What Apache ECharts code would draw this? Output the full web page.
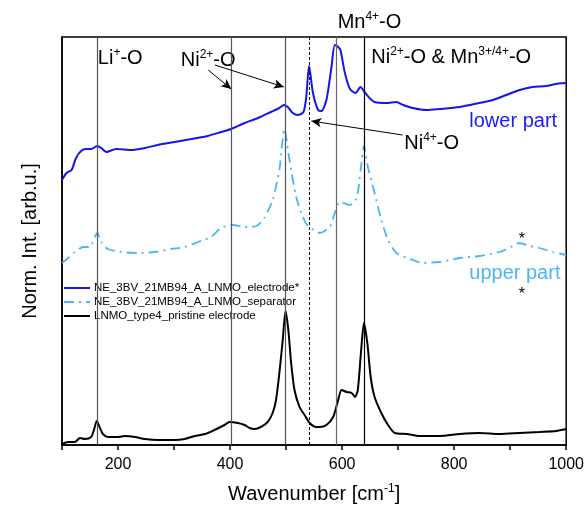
<!DOCTYPE html>
<html>
<head>
<meta charset="utf-8">
<script src="https://cdn.jsdelivr.net/npm/echarts@6/dist/echarts.min.js"></script>
<style>
  html, body { margin: 0; padding: 0; background: #fff; }
  #chart { width: 587px; height: 510px; }
</style>
</head>
<body>
<div id="chart"></div>
<script>
// Raman spectra (normalised, stacked with offsets), wavenumber in cm^-1
const electrodeX = [100,108,117,125,134,143,152,163,170,179,197,224,248,271,301,331,360,384,402,426,450,473,488,496,503,512,521,531,536,541,548,557,563,572,581,587,593,597,605,614,624,633,640,649,658,679,697,709,726,750,774,810,845,869,893,917,940,964,982,1000];
const electrodeY = [265,272,275,287,294,296,296,299,297,293,296,295,297,300,303,306,309,313,316,322,327,333,337,340,338,332,330,333,348,379,352,335,334,345,378,400,398,395,372,356,352,358,353,347,343,342,343,340,337,335,336,338,342,345,350,355,358,359,361,362];

const separatorX = [100,111,123,138,149,163,170,182,206,236,265,295,319,343,366,384,405,426,447,461,476,488,497,506,518,530,540,550,560,578,587,596,614,626,633,639,646,658,670,682,697,721,744,774,810,845,881,905,916,935,952,976,1000];
const separatorY = [182,187,193,198,198,212,203,196,193,192,193,196,198,203,208,217,220,218,219,227,245,275,316,285,248,228,218,215,212,218,232,243,240,247,275,299,278,252,225,205,192,186,182,183,187,189,193,199,202,199,197,193,190];

const pristineX = [100,111,123,132,141,152,157,162,167,173,182,200,212,230,248,271,301,319,337,355,372,390,399,414,426,435,444,455,467,476,482,488,494,499,504,509,515,524,533,542,554,560,572,584,593,599,608,617,623,628,634,639,645,651,658,670,682,694,715,738,774,810,845,881,917,952,982,1000];
const pristineY = [1,3,3,7,6,8,15,24,18,11,8,8,9,8,6,5,5,6,9,11,15,20,23,22,20,17,16,18,23,32,45,72,105,134,115,82,55,38,30,22,18,18,20,28,45,55,53,52,48,55,95,122,102,68,48,32,20,12,11,9,9,11,12,11,12,13,14,16];

const seriesNames = [
  'NE_3BV_21MB94_A_LNMO_electrode*',
  'NE_3BV_21MB94_A_LNMO_separator',
  'LNMO_type4_pristine electrode'
];

// Band positions (cm^-1)
const bandLines = [163, 402, 498, 590, 640];
const bandColors = ['#555', '#555', '#555', '#666', '#000'];
const dashedBand = 542;

// Axis ticks
const xMin = 100, xMax = 1000, xStep = 100, xLabelStep = 200;
const yMin = 0, yMax = 408;

const FONT = 'Liberation Sans, Arial, Helvetica, sans-serif';

function pairs(xs, ys) { return xs.map((x, i) => [x, ys[i]]); }

const chart = echarts.init(document.getElementById('chart'), null, { renderer: 'canvas' });

const sup = { fontSize: 12, fontFamily: FONT, verticalAlign: 'top', lineHeight: 22 };
const mainRich = (color) => ({
  m: { fontSize: 20, fontFamily: FONT, color: color, lineHeight: 22 },
  s: Object.assign({ color: color }, sup)
});

// Annotation texts, anchored in data coordinates (left edge, vertical middle)
const notes = [
  { at: [164, 387], text: '{m|Li}{s|+}{m|-O}', color: '#000' },
  { at: [312, 385], text: '{m|Ni}{s|2+}{m|-O}', color: '#000' },
  { at: [592, 423], text: '{m|Mn}{s|4+}{m|-O}', color: '#000' },
  { at: [652, 388], text: '{m|Ni}{s|2+}{m|-O & Mn}{s|3+/4+}{m|-O}', color: '#000' },
  { at: [711, 302], text: '{m|Ni}{s|4+}{m|-O}', color: '#000' },
  { at: [827, 324], text: '{m|lower part}', color: '#1a1aff' },
  { at: [827, 172], text: '{m|upper part}', color: '#4db6f5' }
];
const stars = [[921, 205], [921, 150]];

const option = {
  animation: false,
  backgroundColor: '#fff',
  grid: {
    left: 62, right: 20, top: 37, bottom: 65,
    show: true, borderColor: '#000', borderWidth: 1.5, backgroundColor: 'transparent'
  },
  legend: {
    data: seriesNames,
    orient: 'vertical',
    left: 63, top: 282,
    padding: 0,
    itemGap: 2,
    itemWidth: 26, itemHeight: 12,
    itemStyle: { color: 'transparent', borderWidth: 0, opacity: 0 },
    textStyle: { fontSize: 11.5, fontFamily: FONT, color: '#000', padding: [0, 0, 0, -1] }
  },
  xAxis: {
    type: 'value', min: xMin, max: xMax, interval: xStep,
    name: 'Wavenumber [cm{s|-1}]',
    nameLocation: 'middle', nameGap: 38,
    nameTextStyle: {
      fontSize: 20, fontFamily: FONT, color: '#000',
      rich: { s: { fontSize: 12, fontFamily: FONT, verticalAlign: 'top', lineHeight: 22 } }
    },
    axisLine: { lineStyle: { color: '#000', width: 1.5 } },
    axisTick: { show: true, inside: false, length: 5, lineStyle: { color: '#000', width: 1.5 } },
    axisLabel: {
      fontSize: 16, fontFamily: FONT, color: '#000', margin: 12,
      formatter: v => (v % xLabelStep === 0 ? String(v) : '')
    },
    splitLine: { show: false }
  },
  yAxis: {
    type: 'value', min: yMin, max: yMax,
    name: 'Norm. Int. [arb.u.]',
    nameLocation: 'middle', nameGap: 22,
    nameTextStyle: { fontSize: 20, fontFamily: FONT, color: '#000' },
    axisLine: { show: true, lineStyle: { color: '#000', width: 1.5 } },
    axisTick: { show: false },
    axisLabel: { show: false },
    splitLine: { show: false }
  },
  series: [
    {
      name: 'bands', type: 'line', data: [], silent: true,
      markLine: {
        silent: true, symbol: 'none', animation: false,
        label: { show: false },
        data: bandLines.map((b, i) => ({ xAxis: b, lineStyle: { color: bandColors[i], width: 1.2, type: 'solid' } }))
          .concat([{ xAxis: dashedBand, lineStyle: { color: '#000', width: 1, type: [3, 2] } }])
      }
    },
    {
      name: seriesNames[0], type: 'line', data: pairs(electrodeX, electrodeY),
      showSymbol: false, symbol: 'none', smooth: 0.25,
      lineStyle: { color: '#1414f0', width: 2 }, itemStyle: { color: '#1414f0' }
    },
    {
      name: seriesNames[1], type: 'line', data: pairs(separatorX, separatorY),
      showSymbol: false, symbol: 'none', smooth: 0.25,
      lineStyle: { color: '#4db6f5', width: 1.8, type: [10, 5, 2, 5] }, itemStyle: { color: '#4db6f5' }
    },
    {
      name: seriesNames[2], type: 'line', data: pairs(pristineX, pristineY),
      showSymbol: false, symbol: 'none', smooth: 0.25,
      lineStyle: { color: '#000', width: 2 }, itemStyle: { color: '#000' }
    },
    {
      name: 'arrows', type: 'line', data: [], silent: true,
      markLine: {
        silent: true, symbol: ['none', 'arrow'], symbolSize: [7, 10], animation: false,
        label: { show: false },
        lineStyle: { color: '#000', width: 1, type: 'solid' },
        data: [
          [{ coord: [361, 375] }, { coord: [402, 356] }],
          [{ coord: [373, 380] }, { coord: [496, 358] }],
          [{ coord: [708, 310] }, { coord: [545, 324] }]
        ]
      }
    }
  ]
};

chart.setOption(option);

// Place annotation texts at their data positions
const elements = notes.map(n => {
  const p = chart.convertToPixel({ gridIndex: 0 }, n.at);
  return {
    type: 'text', x: p[0], y: p[1], silent: true,
    style: { text: n.text, align: 'left', verticalAlign: 'middle', rich: mainRich(n.color), fill: n.color }
  };
}).concat(stars.map(s => {
  const p = chart.convertToPixel({ gridIndex: 0 }, s);
  return {
    type: 'text', x: p[0], y: p[1], silent: true,
    style: { text: '*', align: 'center', verticalAlign: 'middle', fontSize: 16, fontFamily: FONT, fill: '#000' }
  };
}));

chart.setOption({ graphic: { elements: elements } });
</script>
</body>
</html>
